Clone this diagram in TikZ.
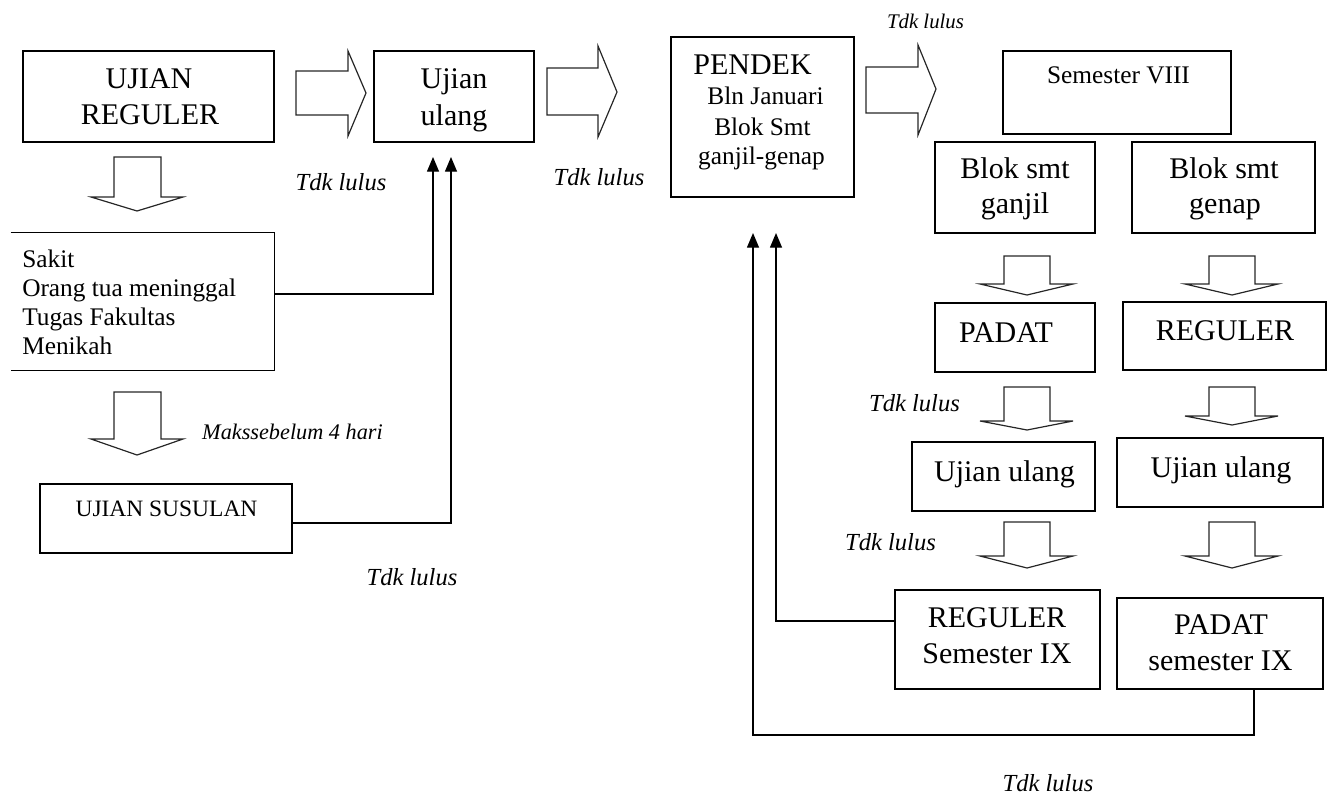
\documentclass[tikz,border=0pt]{standalone}
\usepackage{fontspec}
\setmainfont{Liberation Serif}
\usetikzlibrary{fit,arrows.meta}
\begin{document}
\begin{tikzpicture}[x=0.75pt,y=-0.75pt,
  box/.style={draw, line width=1pt, inner sep=0pt},
  area/.style={inner sep=0pt},
  boxline/.style={line width=1pt},
  big/.style={font=\fontsize{22.5}{27}\selectfont, inner sep=0pt, anchor=base},
  mid/.style={font=\fontsize{19}{22}\selectfont, inner sep=0pt, anchor=base},
  lbl/.style={font=\fontsize{18.4}{22}\selectfont\itshape, inner sep=0pt, anchor=base},
  blk/.style={draw=black!85, line width=0.9pt, line join=miter},
  fb/.style={line width=1pt, -{Triangle[length=11pt,width=9pt]}}
]
\useasboundingbox (0,0) rectangle (1327,796);

% ---------- boxes ----------
\node[box, fit={(23,51) (274,142)}] (ureg) {};
\node[box, fit={(374,51) (534,142)}] (uul) {};
\node[box, fit={(671,37) (854,197)}] (pendek) {};
\node[box, fit={(1003,51) (1231,134)}] (s8) {};
\node[box, fit={(935,142) (1095,233)}] (ganjil) {};
\node[box, fit={(1132,142) (1315,233)}] (genap) {};
\node[box, fit={(935,303) (1095,372)}] (padat) {};
\node[box, fit={(1123,302) (1326,370)}] (reg) {};
\node[box, fit={(912,442) (1095,511)}] (ulL) {};
\node[box, fit={(1117,438) (1323,507)}] (ulR) {};
\node[box, fit={(895,590) (1100,689)}] (reg9) {};
\node[box, fit={(1117,598) (1323,689)}] (pad9) {};
\node[box, fit={(40,484) (292,553)}] (sus) {};
\node[area, fit={(11,233) (274,370)}] (alasan) {};
\draw[boxline] (alasan.north west) -- (alasan.north east) -- (alasan.south east) -- (alasan.south west);

% ---------- texts ----------
\node[big] (t1) at (149,88) {UJIAN};
\node[big] (t2) at (150,124) {REGULER};
\node[big] (t3) at (454,88) {Ujian};
\node[big] (t4) at (454,125) {ulang};
\node[big] (t5) at (752.5,74) {PENDEK};
\node[mid] (t6) at (765.5,104) {Bln Januari};
\node[mid] (t7) at (762.5,135) {Blok Smt};
\node[mid] (t8) at (761.5,164) {ganjil-genap};
\node[mid] (t9) at (1118.5,83) {Semester VIII};
\node[big] (t10) at (1015,178) {Blok smt};
\node[big] (t11) at (1015,213) {ganjil};
\node[big] (t12) at (1224,178) {Blok smt};
\node[big] (t13) at (1225,213) {genap};
\node[big] (t14) at (1006,342) {PADAT};
\node[big] (t15) at (1225,340) {REGULER};
\node[big] (t16) at (1004.5,481) {Ujian ulang};
\node[big] (t17) at (1221,477) {Ujian ulang};
\node[big] (t18) at (997,627) {REGULER};
\node[big] (t19) at (997,663) {Semester IX};
\node[big] (t20) at (1221,634) {PADAT};
\node[big] (t21) at (1220.5,670) {semester IX};
\node[font=\fontsize{17.6}{21}\selectfont, inner sep=0pt, anchor=base] (t22) at (166.5,516) {UJIAN SUSULAN};
\node[mid, anchor=base west] (t23) at (22,267) {Sakit};
\node[mid, anchor=base west] (t24) at (22,296) {Orang tua meninggal};
\node[mid, anchor=base west] (t25) at (22,325) {Tugas Fakultas};
\node[mid, anchor=base west] (t26) at (22,354) {Menikah};

\node[lbl] (l1) at (341,190) {Tdk lulus};
\node[lbl] (l2) at (599,185) {Tdk lulus};
\node[lbl, font=\fontsize{15.6}{19}\selectfont\itshape] (l3) at (925.5,28) {Tdk lulus};
\node[lbl] (l4) at (914.5,411) {Tdk lulus};
\node[lbl] (l5) at (890.5,550) {Tdk lulus};
\node[lbl] (l6) at (412,585) {Tdk lulus};
\node[lbl] (l7) at (1048,791) {Tdk lulus};
\node[lbl, font=\fontsize{16.7}{20}\selectfont\itshape] (l8) at (292.5,439) {Makssebelum 4 hari};

% ---------- block arrows ----------
\draw[blk] (296,71) -- (348,71) -- (348,51) -- (366,93) -- (348,136) -- (348,115) -- (296,115) -- cycle;
\draw[blk] (547,68) -- (598,68) -- (598,46) -- (617,92) -- (598,137) -- (598,115) -- (547,115) -- cycle;
\draw[blk] (866,67) -- (918,67) -- (918,45) -- (936,89) -- (918,135) -- (918,113) -- (866,113) -- cycle;

\draw[blk] (114,157) -- (161,157) -- (161,197) -- (183,197) -- (137,211) -- (91,197) -- (114,197) -- cycle;
\draw[blk] (114,392) -- (161,392) -- (161,439) -- (183,439) -- (137,455) -- (91,439) -- (114,439) -- cycle;
\draw[blk] (1004,256) -- (1050,256) -- (1050,284) -- (1073,284) -- (1027,295) -- (980,284) -- (1004,284) -- cycle;
\draw[blk] (1209,256) -- (1255,256) -- (1255,284) -- (1278,284) -- (1232,295) -- (1185,284) -- (1209,284) -- cycle;
\draw[blk] (1004,387) -- (1050,387) -- (1050,421) -- (1073,421) -- (1027,430) -- (980,421) -- (1004,421) -- cycle;
\draw[blk] (1209,387) -- (1255,387) -- (1255,416) -- (1278,416) -- (1232,425) -- (1185,416) -- (1209,416) -- cycle;
\draw[blk] (1004,522) -- (1050,522) -- (1050,556) -- (1073,556) -- (1027,568) -- (980,556) -- (1004,556) -- cycle;
\draw[blk] (1209,522) -- (1255,522) -- (1255,556) -- (1278,556) -- (1232,568) -- (1185,556) -- (1209,556) -- cycle;

% ---------- feedback connectors ----------
\coordinate (a1) at (433,157);
\coordinate (a2) at (451,157);
\coordinate (a3) at (776,233);
\coordinate (a4) at (753,233);
\coordinate (y1) at (0,294);
\coordinate (y2) at (0,523);
\coordinate (y3) at (0,621);
\coordinate (x4) at (1254,0);
\coordinate (c4) at (1254,735);
\draw[fb] (alasan.east |- y1) -| (a1);
\draw[fb] (sus.east |- y2) -| (a2);
\draw[fb] (reg9.west |- y3) -| (a3);
\draw[fb] (pad9.south -| x4) -- (c4) -| (a4);
\end{tikzpicture}
\end{document}
